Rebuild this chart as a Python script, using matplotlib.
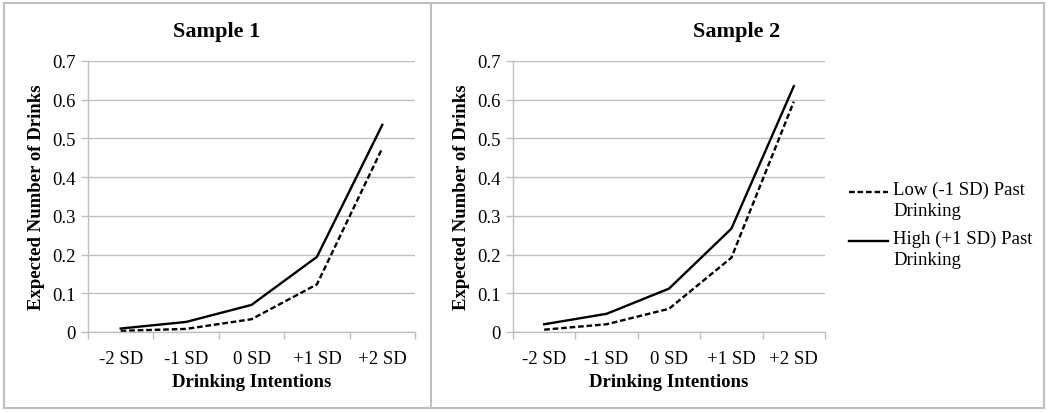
import matplotlib
matplotlib.use('Agg')
import matplotlib.pyplot as plt
from matplotlib.lines import Line2D
from matplotlib.ticker import FuncFormatter

plt.rcParams['font.family'] = ['Liberation Serif', 'DejaVu Serif']

categories = ['-2 SD', '-1 SD', '0 SD', '+1 SD', '+2 SD']
titles = ['Sample 1', 'Sample 2']
low_past = [
  [0.003, 0.008, 0.033, 0.123, 0.475],
  [0.006, 0.020, 0.060, 0.192, 0.595],
]
high_past = [
  [0.009, 0.026, 0.070, 0.194, 0.535],
  [0.020, 0.047, 0.112, 0.267, 0.635],
]
legend_labels = ['Low (-1 SD) Past\nDrinking', 'High (+1 SD) Past\nDrinking']
y_ticks = [0, 0.1, 0.2, 0.3, 0.4, 0.5, 0.6, 0.7]

W, H = 1050, 414
GRAY = '#bfbfbf'
DASH = (0, (2.4, 1.2))

fig = plt.figure(figsize=(W / 100, H / 100), dpi=100)

def fx(px):
  return px / W

def fy(py):
  return 1 - py / H

# outer frame and divider between the two chart areas
for xs, ys in [((4, 1044), (4, 4)), ((4, 1044), (409, 409)),
               ((4, 4), (4, 409)), ((1044, 1044), (4, 409)),
               ((431, 431), (4, 409))]:
  fig.add_artist(Line2D([fx(x) for x in xs], [fy(y) for y in ys],
                        color=GRAY, lw=1.5, transform=fig.transFigure))

panels = [(88, 415, 217), (513, 825, 737)]
x = list(range(len(categories)))

for i, (left, right, title_x) in enumerate(panels):
  ax = fig.add_axes([fx(left), fy(333), fx(right - left), fy(62) - fy(333)])
  ax.plot(x, low_past[i], color='black', lw=1.7, ls=DASH)
  ax.plot(x, high_past[i], color='black', lw=1.7)
  ax.set_xlim(-0.5, len(categories) - 0.5)
  ax.set_ylim(0, 0.7)
  ax.set_yticks(y_ticks)
  ax.yaxis.set_major_formatter(FuncFormatter(lambda v, p: f"{v:g}"))
  ax.set_xticks(x)
  ax.set_xticklabels(categories)
  ax.set_xticks([k - 0.5 for k in range(len(categories) + 1)], minor=True)
  ax.tick_params(axis='x', which='major', length=0, pad=13, labelsize=13.5)
  ax.tick_params(axis='x', which='minor', length=5, color=GRAY, width=1)
  ax.tick_params(axis='y', length=5, color=GRAY, width=1, pad=4, labelsize=13.5)
  ax.grid(axis='y', color=GRAY, lw=1)
  ax.set_axisbelow(True)
  for s in ['top', 'right']:
    ax.spines[s].set_visible(False)
  for s in ['left', 'bottom']:
    ax.spines[s].set_color(GRAY)
    ax.spines[s].set_linewidth(1)
  ax.set_xlabel('Drinking Intentions', fontsize=13.5, fontweight='bold', labelpad=4)
  ax.set_ylabel('Expected Number of Drinks', fontsize=13.5, fontweight='bold', labelpad=5)
  fig.text(fx(title_x), fy(32), titles[i], fontsize=16, fontweight='bold',
           ha='center', va='center')

# legend drawn by hand so the sample line sits on the first text line
styles = [DASH, '-']
for j, (lab, st) in enumerate(zip(legend_labels, styles)):
  ytop = 193 + j * 49
  fig.add_artist(Line2D([fx(849), fx(888)], [fy(ytop), fy(ytop)], color='black',
                        lw=1.7, ls=st, transform=fig.transFigure))
  fig.text(fx(893), fy(ytop - 11), lab, fontsize=13.5, ha='left', va='top',
           linespacing=1.3)

fig.savefig('out.png', dpi=100)
